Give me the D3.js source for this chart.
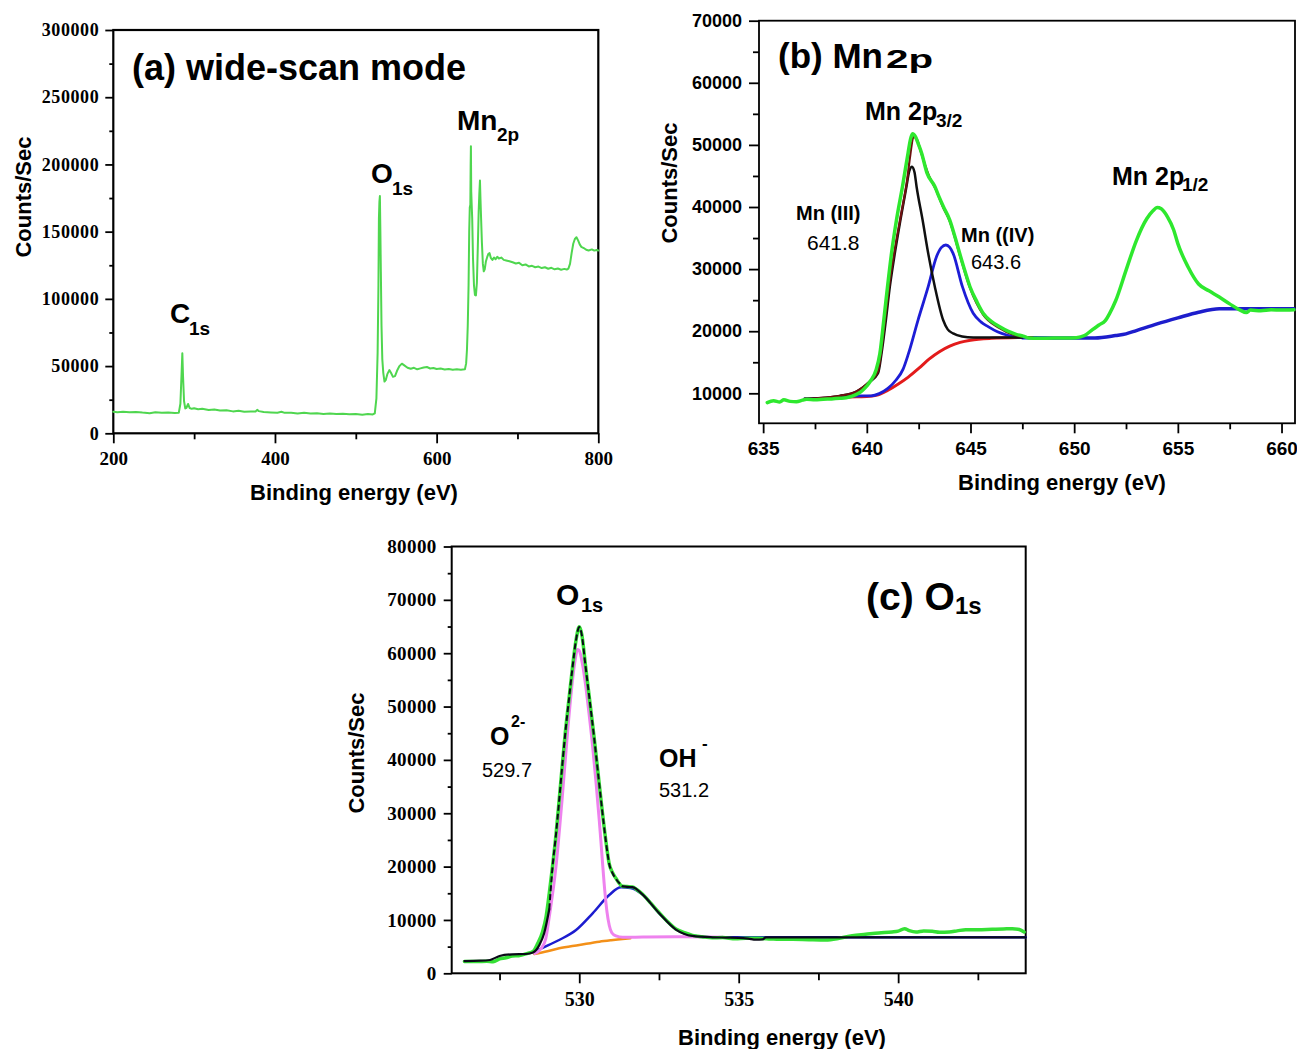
<!DOCTYPE html>
<html>
<head>
<meta charset="utf-8">
<script src="https://cdn.jsdelivr.net/npm/d3@7"></script>
<style>
  body { margin: 0; background: #fff; }
  svg { display: block; }
</style>
</head>
<body>
<svg id="fig" width="1297" height="1049"></svg>
<script>
// ---------- (a) wide-scan survey: [binding energy eV, counts/s] ----------
const wideScan = [
  [200,16000],[205,15700],[212,16100],[220,15600],[228,15900],[236,15400],[245,15000],[252,15600],
  [260,15200],[268,15500],[276,15100],[281,15200],[283,22000],[284.5,45000],[285.4,59500],[286.3,42000],
  [287.5,24000],[289,18500],[290.5,19000],[292.5,21800],[294.5,18800],[297,18200],[300,18600],[305,17900],
  [310,18200],[318,17300],[325,17700],[332,16900],[340,17200],[348,16300],[355,16800],[362,16100],
  [370,16300],[376,16200],[378,17400],[380,16500],[386,15800],[395,15500],[403,15300],[408,16000],
  [412,15200],[420,15300],[428,14800],[436,15300],[444,14700],[452,14900],[460,14400],[468,14700],
  [476,14300],[484,14500],[492,14200],[500,14400],[508,13800],[515,14300],[521,14000],[523.5,14900],
  [525.5,26000],[527,60000],[528,110000],[528.6,160000],[529.2,172000],[529.8,176500],[530.4,150000],
  [531,120000],[531.8,80000],[532.8,55000],[534,45000],[535.5,38500],[537,39500],[539,44000],
  [541.5,47000],[543.5,45000],[546,42000],[548.5,42500],[551,46500],[554,50000],[557,51800],[560,50500],
  [564,48800],[568,48000],[572,48700],[576,47600],[580,48300],[584,49000],[588,49300],[592,48200],
  [596,48600],[600,47800],[605,48200],[610,47400],[615,47900],[620,47300],[625,47600],[630,47300],
  [635,47600],[636.5,52000],[637.5,62000],[638.5,80000],[639.5,110000],[640.3,150000],[641,168000],
  [641.7,170000],[642.1,200000],[642.4,213500],[642.8,180000],[643.3,171000],[644,160000],[645,130000],
  [646.2,110000],[647.4,103000],[648.6,102500],[649.8,112000],[651,140000],[652,165000],[652.8,178000],
  [653.6,188000],[654.2,175000],[655,160000],[656,142000],[657.2,126000],[658.3,120500],[659.5,122000],
  [661,128000],[662.5,131000],[664,133500],[665.5,134000],[667,130500],[669,129000],[671,130800],
  [673,129500],[675,131300],[677,130000],[680,130700],[683,129000],[686,128600],[690,128000],[694,127200],
  [698,126300],[702,126800],[706,125000],[710,125600],[714,124100],[718,124600],[722,123500],[726,124000],
  [730,122900],[734,123500],[738,122400],[742,123100],[746,122000],[750,122600],[754,121700],[758,122300],
  [761,121800],[763,122500],[765,126000],[767,134000],[769,141000],[771,144500],[773,145800],[775,143500],
  [777,140500],[779,138700],[782,137800],[785,136500],[788,136000],[792,136800],[795,135900],[798,136400],
  [800,136000]
];

// ---------- (b) Mn 2p region ----------
const mn2pRaw = [
  [635.2,8500],[635.5,8800],[635.8,8600],[636.0,8950],[636.3,8700],[636.6,8650],[636.9,8900],[637.1,9050],
  [637.5,8950],[637.9,9050],[638.3,9100],[638.7,9200],[639.0,9300],[639.3,9550],[639.6,10000],[639.8,10500],
  [640.0,11200],[640.2,12100],[640.45,13800],[640.63,16400],[640.82,21800],[641.0,27200],[641.19,32500],
  [641.43,37900],[641.72,43300],[641.99,48700],[642.1,50800],[642.2,51800],[642.35,51300],[642.5,50000],
  [642.64,48700],[642.9,45500],[643.28,43300],[643.5,41500],[643.7,40000],[644.0,37900],[644.25,35200],
  [644.48,32500],[644.72,29800],[644.97,27200],[645.3,24800],[645.61,22900],[646.0,21600],[646.41,20700],
  [646.8,20000],[647.2,19500],[647.54,19200],[647.8,18900],[648.3,18850],[649,18900],[649.6,18900],
  [650.1,18950],[650.5,19300],[650.9,20300],[651.2,21000],[651.5,21700],[651.7,22800],[652.0,24900],
  [652.5,29800],[653.0,34600],[653.5,38100],[653.8,39400],[654.0,39900],[654.2,39700],[654.5,38400],
  [654.8,36300],[655.0,34100],[655.5,30300],[656.0,27600],[656.5,26500],[657.0,25500],[657.5,24400],
  [658.0,23400],[658.3,23000],[658.5,23400],[659,23300],[659.5,23450],[660,23400],[660.6,23450]
];
const mn2pEnvelope = [
  [637,9100],[638,9300],[638.7,9600],[639.5,10300],[640.14,11900],[640.54,13500],[640.7,16800],[640.9,22300],
  [641.1,27800],[641.35,33200],[641.65,38800],[641.95,44500],[642.1,48500],[642.25,51300],[642.4,51000],
  [642.64,48500],[643.0,45000],[643.3,43000],[643.7,39800],[644.0,37700],[644.48,32300],[644.97,27000],
  [645.6,22700],[646.4,20500],[647.0,19500],[647.54,19100],[648,19000]
];
const mnIII = [
  [637,9100],[638,9250],[638.7,9570],[639.5,10260],[640.14,11870],[640.54,13220],[640.71,16430],[640.92,21800],
  [641.11,27170],[641.35,32540],[641.62,37900],[641.91,43270],[642.05,45800],[642.18,46500],[642.3,45600],
  [642.4,43270],[642.69,37900],[642.96,32540],[643.28,27170],[643.68,21800],[643.9,20300],[644.16,19640],
  [644.6,19150],[645.13,18990],[647.5,18990]
];
const mnIV = [
  [637,9100],[638,9200],[639,9350],[639.34,9570],[640.2,9600],[640.6,9950],[641.0,10750],[641.4,12100],
  [641.75,13900],[642.0,16300],[642.47,21800],[642.96,27170],[643.36,32000],[643.6,33500],[643.81,33880],
  [644.0,33500],[644.16,32540],[644.61,27170],[645.13,22880],[645.5,21500],[645.85,20730],[646.3,19900],
  [646.74,19390],[647.3,19050],[648,18990]
];
const mn32Background = [
  [637,9100],[638,9200],[639,9350],[639.5,9450],[640,9470],[640.5,9700],[641,10450],[641.5,11450],
  [642,12600],[642.5,14000],[643,15500],[643.5,16700],[644,17600],[644.5,18200],[645,18550],[646,18850],
  [647.5,18990],[648,19000]
];
const mn12Background = [
  [647.5,18950],[649,18920],[651,18920],[652,19300],[652.5,19570],[653,20100],[654,21180],[655,22150],
  [656,23060],[657,23600],[658,23600],[659,23620],[660.6,23600]
];

// ---------- (c) O 1s region ----------
const o1sRaw = [
  [526.4,2230],[526.8,2200],[527.1,2250],[527.3,2150],[527.5,2700],[527.7,2900],[527.9,3240],[528.1,3300],
  [528.38,3750],[528.55,4100],[528.7,5620],[528.85,7800],[528.96,10600],[529.06,15000],[529.16,19980],
  [529.27,26000],[529.37,32480],[529.46,38500],[529.56,44980],[529.68,51500],[529.79,57460],[529.9,62500],
  [530.0,64950],[530.08,63500],[530.19,58000],[530.33,51000],[530.47,44000],[530.59,37500],[530.71,31000],
  [530.83,25000],[530.94,20500],[531.05,18800],[531.15,17800],[531.36,16300],[531.5,16250],[531.67,16200],
  [531.8,15700],[531.98,14870],[532.25,13100],[532.5,11400],[532.75,9800],[533.03,8300],[533.3,7600],
  [533.55,7100],[533.85,6850],[534.17,6650],[534.5,6700],[534.9,6460],[535.22,6560],[535.64,6560],
  [536,6450],[536.27,6370],[536.69,6370],[537.2,6300],[537.73,6250],[538.15,6560],[538.56,7060],
  [538.98,7310],[539.4,7560],[539.81,7740],[540.0,7900],[540.2,8370],[540.35,8000],[540.56,7740],
  [540.8,7950],[541.07,7870],[541.3,7700],[541.6,7740],[541.85,7950],[542.12,8180],[542.5,8150],
  [542.95,8240],[543.3,8300],[543.58,8370],[543.8,8200],[543.95,7740]
];
const o1sEnvelope = [
  [526.4,2300],[526.9,2360],[527.2,2500],[527.5,3240],[527.9,3560],[528.33,3620],[528.55,3900],[528.75,5300],
  [528.9,7500],[529.06,12000],[529.16,19800],[529.27,26000],[529.37,32400],[529.46,38500],[529.56,44900],
  [529.68,51500],[529.79,57400],[529.9,62500],[530.0,64900],[530.08,63400],[530.19,57900],[530.33,51000],
  [530.47,44000],[530.59,37500],[530.71,31000],[530.83,25000],[530.94,20500],[531.05,18700],[531.15,17700],
  [531.36,16300],[531.5,16200],[531.67,16150],[531.98,14800],[532.5,11300],[533.03,8200],[533.55,7000],
  [534.18,6750],[534.6,6700],[535.0,6650],[535.3,6500],[535.54,6300],[535.75,6350],[535.85,6750],
  [536.5,6750],[544,6750]
];
const o1sO2 = [
  [528.6,3700],[528.8,4600],[528.95,6500],[529.06,10600],[529.27,19980],[529.46,32480],[529.63,44980],
  [529.84,57460],[529.95,60700],[530.0,60500],[530.1,58000],[530.2,54000],[530.3,49000],[530.42,42500],
  [530.53,35500],[530.63,28500],[530.72,21500],[530.8,15500],[530.87,11500],[530.94,9000],[531.02,7600],
  [531.15,7000],[531.36,6750],[532,6800],[533,6850],[534,6800],[534.5,6750]
];
const o1sOH = [
  [528.59,4050],[528.9,4900],[529.37,6240],[529.9,8110],[530.42,11240],[530.94,14680],[531.31,16110],
  [531.6,16000],[531.98,14800],[532.5,11300],[533.03,8300],[533.55,7100],[534.18,6750],[535,6750],[544,6750]
];
const o1sBaseline = [
  [528.59,3620],[529.0,4150],[529.37,4680],[530,5300],[530.63,5930],[531,6200],[531.36,6430],[531.6,6550]
];

// ---------- tick values ----------
const aXMajor = [200, 400, 600, 800];
const aXMinor = [300, 500, 700];
const aYMajor = [0, 50000, 100000, 150000, 200000, 250000, 300000];
const aYMinor = [25000, 75000, 125000, 175000, 225000, 275000];
const bXMajor = [635, 640, 645, 650, 655, 660];
const bXMinor = [637.5, 642.5, 647.5, 652.5, 657.5];
const bYMajor = [10000, 20000, 30000, 40000, 50000, 60000, 70000];
const bYMinor = [15000, 25000, 35000, 45000, 55000, 65000];
const cXMajor = [530, 535, 540];
const cXMinor = [527.5, 532.5, 537.5, 542.5];
const cYMajor = [0, 10000, 20000, 30000, 40000, 50000, 60000, 70000, 80000];
const cYMinor = [5000, 15000, 25000, 35000, 45000, 55000, 65000, 75000];

const SANS = "'Liberation Sans', Arial, Helvetica, sans-serif";
const SERIF = "'Liberation Serif', 'Times New Roman', serif";

const svg = d3.select("#fig");

// Builds one framed panel with outward major/minor ticks on left and bottom.
function panel(cfg) {
  const g = svg.append("g");
  const x = d3.scaleLinear().domain(cfg.xDomain).range([cfg.left, cfg.right]);
  const y = d3.scaleLinear().domain(cfg.yDomain).range([cfg.bottom, cfg.top]);

  const styleAxis = (sel, font, size) => {
    sel.select(".domain").remove();
    sel.selectAll("line").attr("stroke", "#000").attr("stroke-width", cfg.tickWidth);
    sel.selectAll("text")
      .attr("font-family", font).attr("font-size", size)
      .attr("font-weight", "bold").attr("fill", "#000");
  };

  g.append("g").attr("transform", `translate(0,${cfg.bottom})`)
    .call(d3.axisBottom(x).tickValues(cfg.xMinor).tickSize(cfg.xMinorLen).tickFormat(""))
    .call(s => styleAxis(s, cfg.tickFont, cfg.xFontSize));
  g.append("g").attr("transform", `translate(0,${cfg.bottom})`)
    .call(d3.axisBottom(x).tickValues(cfg.xMajor).tickSize(cfg.xMajorLen)
      .tickPadding(cfg.xPad).tickFormat(d3.format("d")))
    .call(s => styleAxis(s, cfg.tickFont, cfg.xFontSize));

  g.append("g").attr("transform", `translate(${cfg.left},0)`)
    .call(d3.axisLeft(y).tickValues(cfg.yMinor).tickSize(cfg.yMinorLen).tickFormat(""))
    .call(s => styleAxis(s, cfg.tickFont, cfg.yFontSize));
  g.append("g").attr("transform", `translate(${cfg.left},0)`)
    .call(d3.axisLeft(y).tickValues(cfg.yMajor).tickSize(cfg.yMajorLen)
      .tickPadding(cfg.yPad).tickFormat(d3.format("d")))
    .call(s => styleAxis(s, cfg.tickFont, cfg.yFontSize))
    .call(s => s.selectAll("text").attr("letter-spacing", cfg.yLetterSpacing || 0));

  g.append("rect")
    .attr("x", cfg.left).attr("y", cfg.top)
    .attr("width", cfg.right - cfg.left).attr("height", cfg.bottom - cfg.top)
    .attr("fill", "none").attr("stroke", "#000").attr("stroke-width", cfg.frameWidth);

  // axis titles
  g.append("text")
    .attr("transform", `translate(${cfg.yTitle[0]},${cfg.yTitle[1]}) rotate(-90)`)
    .attr("text-anchor", "middle")
    .attr("font-family", SANS).attr("font-weight", "bold").attr("font-size", cfg.titleSize)
    .text("Counts/Sec");
  g.append("text")
    .attr("x", cfg.xTitle[0]).attr("y", cfg.xTitle[1])
    .attr("text-anchor", "middle")
    .attr("font-family", SANS).attr("font-weight", "bold").attr("font-size", cfg.titleSize)
    .text("Binding energy (eV)");

  return { g, x, y };
}

function drawLine(p, data, color, width, opts = {}) {
  const line = d3.line()
    .x(d => p.x(d[0])).y(d => p.y(d[1]))
    .curve(opts.curve || d3.curveMonotoneX);
  const path = p.g.append("path")
    .datum(data)
    .attr("d", line)
    .attr("fill", "none")
    .attr("stroke", color)
    .attr("stroke-width", width)
    .attr("stroke-linejoin", "round")
    .attr("stroke-linecap", "round");
  if (opts.dash) path.attr("stroke-dasharray", opts.dash).attr("stroke-linecap", "butt");
  return path;
}

function label(p, x, y, text, size, opts = {}) {
  const t = p.g.append("text")
    .attr("x", x).attr("y", y)
    .attr("font-family", opts.family || SANS)
    .attr("font-weight", opts.weight || "bold")
    .attr("font-size", size)
    .attr("fill", "#000")
    .text(text);
  if (opts.length) t.attr("textLength", opts.length).attr("lengthAdjust", "spacingAndGlyphs");
  return t;
}

// ---------------- (a) ----------------
const pa = panel({
  left: 113.3, right: 598.3, top: 30, bottom: 433.3,
  xDomain: [200, 800], yDomain: [0, 300000],
  xMajor: aXMajor, xMinor: aXMinor, yMajor: aYMajor, yMinor: aYMinor,
  xMajorLen: 10, xMinorLen: 6, yMajorLen: 8, yMinorLen: 4, xPad: 8, yPad: 6,
  tickFont: SERIF, xFontSize: 19, yFontSize: 18, yLetterSpacing: 0.6,
  tickWidth: 1.8, frameWidth: 2.2, titleSize: 22,
  yTitle: [31, 197], xTitle: [354, 500]
});
drawLine(pa, wideScan, "#4fd64f", 2, { curve: d3.curveLinear });
label(pa, 132, 80, "(a) wide-scan mode", 36);
label(pa, 170, 323, "C", 28);
label(pa, 189, 335, "1s", 19);
label(pa, 371, 183, "O", 28);
label(pa, 392, 195, "1s", 19);
label(pa, 457, 130, "Mn", 28);
label(pa, 497, 141, "2p", 19);

// ---------------- (b) ----------------
const pb = panel({
  left: 759, right: 1295, top: 20.7, bottom: 423.3,
  xDomain: [634.8, 660.65], yDomain: [5170, 70000],
  xMajor: bXMajor, xMinor: bXMinor, yMajor: bYMajor, yMinor: bYMinor,
  xMajorLen: 10, xMinorLen: 6, yMajorLen: 10, yMinorLen: 6, xPad: 8, yPad: 7,
  tickFont: SANS, xFontSize: 19, yFontSize: 18,
  tickWidth: 1.8, frameWidth: 1.8, titleSize: 22,
  yTitle: [677, 183], xTitle: [1062, 490]
});
drawLine(pb, mn32Background, "#e31b1b", 3);
drawLine(pb, mn12Background, "#1d1dcc", 3.5);
drawLine(pb, mnIV, "#1d1dd6", 2.8);
drawLine(pb, mnIII, "#101010", 2.5);
drawLine(pb, mn2pEnvelope, "#6e1010", 2.2);
drawLine(pb, mn2pRaw, "#2ee82e", 3.5);
label(pb, 778, 68, "(b) Mn", 35);
label(pb, 886, 68, "2p", 26, { length: 47 });
label(pb, 865, 120, "Mn 2p", 25);
label(pb, 936, 127, "3/2", 19);
label(pb, 1112, 185, "Mn 2p", 25);
label(pb, 1182, 191, "1/2", 19);
label(pb, 796, 220, "Mn (III)", 20);
label(pb, 807, 250, "641.8", 21, { weight: "normal" });
label(pb, 961, 242, "Mn ((IV)", 20);
label(pb, 971, 269, "643.6", 20, { weight: "normal" });

// ---------------- (c) ----------------
const pc = panel({
  left: 451.7, right: 1025.7, top: 546.5, bottom: 973.3,
  xDomain: [526, 544], yDomain: [0, 80000],
  xMajor: cXMajor, xMinor: cXMinor, yMajor: cYMajor, yMinor: cYMinor,
  xMajorLen: 10, xMinorLen: 7, yMajorLen: 8, yMinorLen: 4, xPad: 9, yPad: 7,
  tickFont: SERIF, xFontSize: 20, yFontSize: 19, yLetterSpacing: 0.4,
  tickWidth: 1.8, frameWidth: 2, titleSize: 22,
  yTitle: [364, 753], xTitle: [782, 1045]
});
drawLine(pc, o1sBaseline, "#f39019", 2.5);
drawLine(pc, o1sOH, "#1c1ccf", 2.5);
drawLine(pc, o1sO2, "#ee82ee", 3);
drawLine(pc, o1sRaw, "#35e035", 3.5);
// fitted envelope: solid on the tails, dashed where it lies over the peak
drawLine(pc, o1sEnvelope.filter(d => d[0] <= 529.06), "#0a0a18", 2.2);
drawLine(pc, o1sEnvelope.filter(d => d[0] >= 529.06 && d[0] <= 531.36), "#0a0a18", 2, { dash: "6,3" });
drawLine(pc, o1sEnvelope.filter(d => d[0] >= 531.36), "#0a0a18", 2.2);
label(pc, 556, 605, "O", 30);
label(pc, 581, 612, "1s", 20);
label(pc, 866, 610, "(c) O", 39);
label(pc, 955, 614, "1s", 24);
label(pc, 490, 745, "O", 25);
label(pc, 511, 727, "2-", 16);
label(pc, 482, 777, "529.7", 20, { weight: "normal" });
label(pc, 659, 767, "OH", 25);
label(pc, 702, 749, "-", 17);
label(pc, 659, 797, "531.2", 20, { weight: "normal" });
</script>
</body>
</html>
